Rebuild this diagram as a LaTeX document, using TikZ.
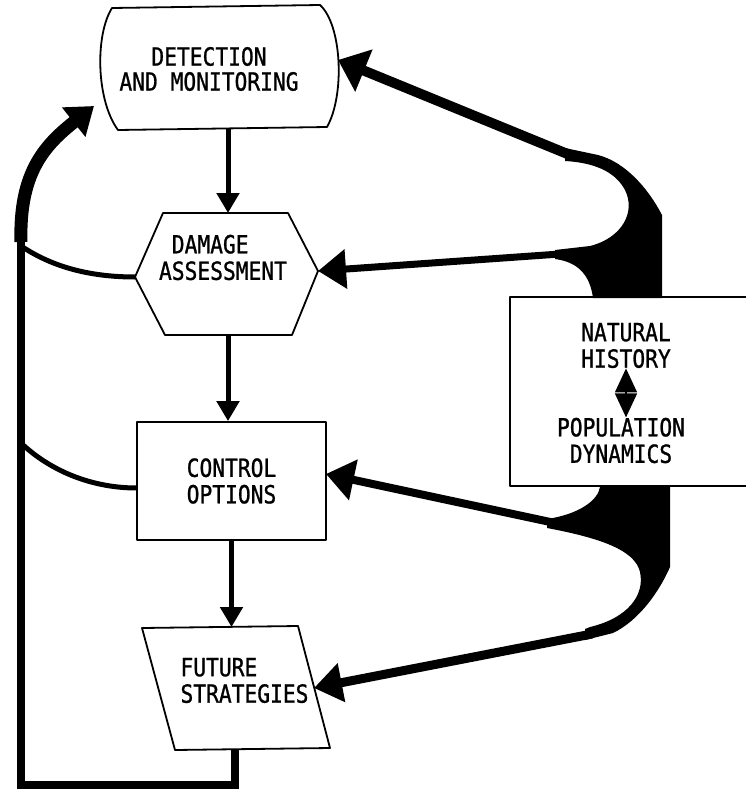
\documentclass[tikz,border=0pt]{standalone}
\usepackage{fontspec}
\newfontfamily\typefont[FakeStretch=0.85,FakeBold=1]{DejaVu Sans Mono}
\usetikzlibrary{arrows.meta}

\tikzset{
  boxtext/.style={font=\typefont\fontsize{25}{26.5}\selectfont, inner sep=0pt},
  boxline/.style={line width=1.8pt, line join=round},
  downarrow/.style={line width=5pt, -{Triangle[length=20pt,width=22pt]}},
  fatarrow/.style={-{Triangle[length=28pt,width=#1]}},
  fatarrow/.default=40pt,
  loopline/.style={line width=8pt, line join=miter},
  sideline/.style={line width=5pt},
}

\begin{document}
\begin{tikzpicture}[x=1pt, y=-1pt, thick]
    \useasboundingbox (0,0) rectangle (746,790);

    % Boites
    \draw[boxline] (112,8) -- (320,5) .. controls (342,25) and (345,95) .. (327,127)
        -- (118,130) .. controls (96,100) and (95,35) .. cycle;
    \node[boxtext, align=center, font=\typefont\fontsize{25}{25}\selectfont] (detect) at (209,69) {DETECTION\\AND MONITORING};

    \draw[boxline] (163,213) -- (288,213) -- (318,271) -- (292,335) -- (165,335) -- (135,277) -- cycle;
    \node[boxtext, align=left] (damage) at (223,257.5) {~DAMAGE\\ASSESSMENT};

    \node[boxtext, boxline, draw, align=center, minimum width=189pt, minimum height=118pt] (control) at (231.5,481) {CONTROL\\OPTIONS};

    \draw[boxline] (142,628) -- (298,626) -- (330,748) -- (175,750) -- cycle;
    \node[boxtext, align=left] (future) at (244.5,680.5) {FUTURE\\STRATEGIES};

    \draw[boxline] (746,297) -| (510,486) -- (746,486);
    \node[boxtext, align=center] (nathist) at (626,345.5) {NATURAL\\HISTORY};
    \node[boxtext, align=center] (popdyn) at (621,440.5) {POPULATION\\DYNAMICS};
    \draw[line width=1.5pt, {Triangle[length=24pt,width=22pt]}-{Triangle[length=24pt,width=22pt]}]
        (nathist.south) -- (nathist.south |- popdyn.north);

    % Points d'attache
    \coordinate (detS) at (228,129);
    \coordinate (detE) at (338,60);
    \coordinate (dmgN) at (228,213);
    \coordinate (dmgS) at (228,335);
    \coordinate (dmgW) at (135,277);
    \coordinate (dmgE) at (318,271);
    \coordinate (ctrlE) at (326,474);
    \coordinate (ctrlW) at (137,488);
    \coordinate (futN) at (233,627);
    \coordinate (futS) at (235,749);
    \coordinate (futE) at (314,688);

    % Fleches verticales
    \draw[downarrow] (detS) -- (dmgN);
    \draw[downarrow] (dmgS) -- (dmgS |- control.north);
    \draw[downarrow] (control.south) -- (control.south |- futN);

    % Boucle de retour
    \coordinate (loopfoot) at (21,785);
    \coordinate (looptop) at (21,242);
    \coordinate (looptip) at (94,106);
    \coordinate (loopA) at (21,246);
    \coordinate (loopB) at (21,443);
    \draw[loopline] (futS) |- (loopfoot) -- (looptop);
    \draw[line width=13pt, -{Triangle[length=26pt,width=36pt]}] (looptop) .. controls (19,172) and (45,145) .. (looptip);
    \draw[sideline] (loopA) .. controls (45,262) and (80,277) .. (dmgW);
    \draw[sideline] (loopB) .. controls (45,466) and (85,488) .. (ctrlW);

    % Eventails
    \fill (565,148) -- (598,155) .. controls (625,162) and (648,188) .. (662,215) -- (662,298)
        -- (593,298) .. controls (590,275) and (578,262) .. (555,259) -- (555,250)
        -- (590,246) .. controls (622,238) and (636,212) .. (625,190)
        .. controls (617,175) and (600,163) .. (565,161) -- cycle;
    \fill (600,487) -- (670,487) -- (670,567) .. controls (660,590) and (640,620) .. (613,633)
        -- (585,640) -- (585,629) -- (590,627) .. controls (628,618) and (645,595) .. (640,572)
        .. controls (635,550) and (600,538) .. (547,528) -- (547,519)
        .. controls (580,514) and (598,500) .. (600,487) -- cycle;
    \coordinate (upfan) at (570,155);
    \coordinate (midfan) at (560,254);
    \coordinate (lowfanA) at (555,523);
    \coordinate (lowfanB) at (592,634);

    % Fleches epaisses
    \draw[line width=10pt, fatarrow=44pt] (upfan) -- (detE);
    \draw[line width=7pt, fatarrow=38pt] (midfan) -- (dmgE);
    \draw[line width=8pt, fatarrow=40pt] (lowfanA) -- (ctrlE);
    \draw[line width=9pt, fatarrow=38pt] (lowfanB) -- (futE);
\end{tikzpicture}
\end{document}
